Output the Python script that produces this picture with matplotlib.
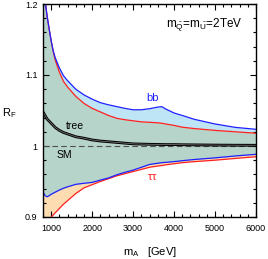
import numpy as np
import matplotlib
matplotlib.use("Agg")
import matplotlib.pyplot as plt
from matplotlib.ticker import MultipleLocator

plt.rcParams['font.family'] = ['Liberation Sans', 'DejaVu Sans']
plt.rcParams['mathtext.fontset'] = 'custom'
plt.rcParams['mathtext.rm'] = 'Liberation Sans'
plt.rcParams['mathtext.it'] = 'Liberation Sans'

# m_A grid [GeV]
m_A = [800, 850, 900, 950, 1000, 1050, 1100, 1200, 1300, 1400, 1600, 1800, 2000,
       2200, 2400, 2600, 2800, 3000, 3200, 3400, 3600, 3700, 3800, 4000, 4200,
       4500, 5000, 5500, 6000]

# bb band (upper / lower edge)
bb_hi = [1.235, 1.205, 1.183, 1.165, 1.148, 1.134, 1.124, 1.110, 1.099, 1.092,
         1.080, 1.072, 1.066, 1.061, 1.058, 1.0555, 1.053, 1.051, 1.051, 1.0525,
         1.0548, 1.0554, 1.052, 1.0465, 1.043, 1.0375, 1.031, 1.0262, 1.0235]
bb_lo = [0.9356, 0.930, 0.9285, 0.930, 0.932, 0.9335, 0.935, 0.938, 0.9405, 0.9425,
         0.946, 0.9475, 0.9487, 0.952, 0.955, 0.9594, 0.963, 0.966, 0.970, 0.974,
         0.9757, 0.9765, 0.977, 0.978, 0.9793, 0.981, 0.9833, 0.986, 0.9883]

# tau tau band (upper / lower edge)
tt_hi = [1.235, 1.205, 1.183, 1.165, 1.148, 1.133, 1.121, 1.104, 1.091, 1.083,
         1.070, 1.060, 1.053, 1.048, 1.043, 1.039, 1.037, 1.0355, 1.034, 1.0334,
         1.0327, 1.032, 1.031, 1.029, 1.0265, 1.0245, 1.022, 1.020, 1.018]
tt_lo = [0.870, 0.879, 0.887, 0.894, 0.900, 0.903, 0.906, 0.912, 0.918, 0.923,
         0.933, 0.941, 0.9455, 0.950, 0.954, 0.958, 0.961, 0.964, 0.967, 0.970,
         0.9718, 0.9725, 0.9735, 0.975, 0.9765, 0.978, 0.980, 0.9825, 0.9849]

# tree level
tree = [1.048, 1.043, 1.038, 1.035, 1.032, 1.029, 1.026, 1.022, 1.019, 1.017,
        1.013, 1.011, 1.0085, 1.007, 1.006, 1.005, 1.004, 1.003, 1.0027, 1.0024,
        1.0022, 1.0021, 1.002, 1.002, 1.0018, 1.0016, 1.0013, 1.0011, 1.001]

x = np.array(m_A)
bb_hi = np.array(bb_hi); bb_lo = np.array(bb_lo)
tt_hi = np.array(tt_hi); tt_lo = np.array(tt_lo)

fig = plt.figure(figsize=(2.68, 2.59), dpi=100)
ax = fig.add_axes([43/268, 1-217/259, 213/268, 213/259])

# bands
ax.fill_between(x, bb_lo, bb_hi, color='#bde5f5', lw=0)
ax.fill_between(x, tt_lo, tt_hi, color='#fcdcb0', lw=0)
ax.fill_between(x, np.maximum(bb_lo, tt_lo), np.minimum(bb_hi, tt_hi), color='#b6d4c9', lw=0)

ax.plot(x, tt_hi, color='#ff2020', lw=0.9)
ax.plot(x, tt_lo, color='#ff2020', lw=0.9)
ax.plot(x, bb_hi, color='#2020ff', lw=0.9)
ax.plot(x, bb_lo, color='#2020ff', lw=0.9)

ax.axhline(1.0, color='#505050', lw=0.8, dashes=(5, 3))
ax.plot(x, tree, color='black', lw=2.0)
ax.plot(x, tree, color='#707070', lw=0.6)

ax.set_xlim(800, 6000)
ax.set_ylim(0.9, 1.2)
ax.xaxis.set_major_locator(MultipleLocator(1000))
ax.xaxis.set_minor_locator(MultipleLocator(200))
ax.yaxis.set_major_locator(MultipleLocator(0.1))
ax.yaxis.set_minor_locator(MultipleLocator(0.02))
ax.set_yticks([0.9, 1.0, 1.1, 1.2])
ax.set_yticklabels(['0.9', '1', '1.1', '1.2'])
ax.tick_params(which='both', direction='in', top=True, right=True, labelsize=6.5, width=0.8)
ax.tick_params(which='major', length=4)
ax.tick_params(which='minor', length=2)
ax.tick_params(axis='x', pad=5)
ax.tick_params(axis='y', pad=4)
for s in ax.spines.values():
    s.set_linewidth(1.0)

ax.text(3800, 1.170, r'm$_{\tilde{\rm Q}}$=m$_{\tilde{\rm U}}$=2TeV', fontsize=8.5, va='center', ha='left')
ax.text(3314, 1.068, 'bb', color='#2020ff', fontsize=8, va='center', ha='left')
ax.text(1361, 1.028, 'tree', color='black', fontsize=7.5, va='center', ha='left')
ax.text(1142, 0.987, 'SM', color='black', fontsize=7.5, va='center', ha='left')
ax.text(3339, 0.957, r'$\tau\tau$', color='#ff2020', fontsize=8, va='center', ha='left')

fig.text(2/268, 1-113/259, r'R$_{\rm F}$', fontsize=8, ha='left', va='center')
fig.text(150/268, 1-252/259, r'm$_{\rm A}$   [GeV]', fontsize=8, ha='center', va='center')

fig.savefig('out.png', dpi=100)
